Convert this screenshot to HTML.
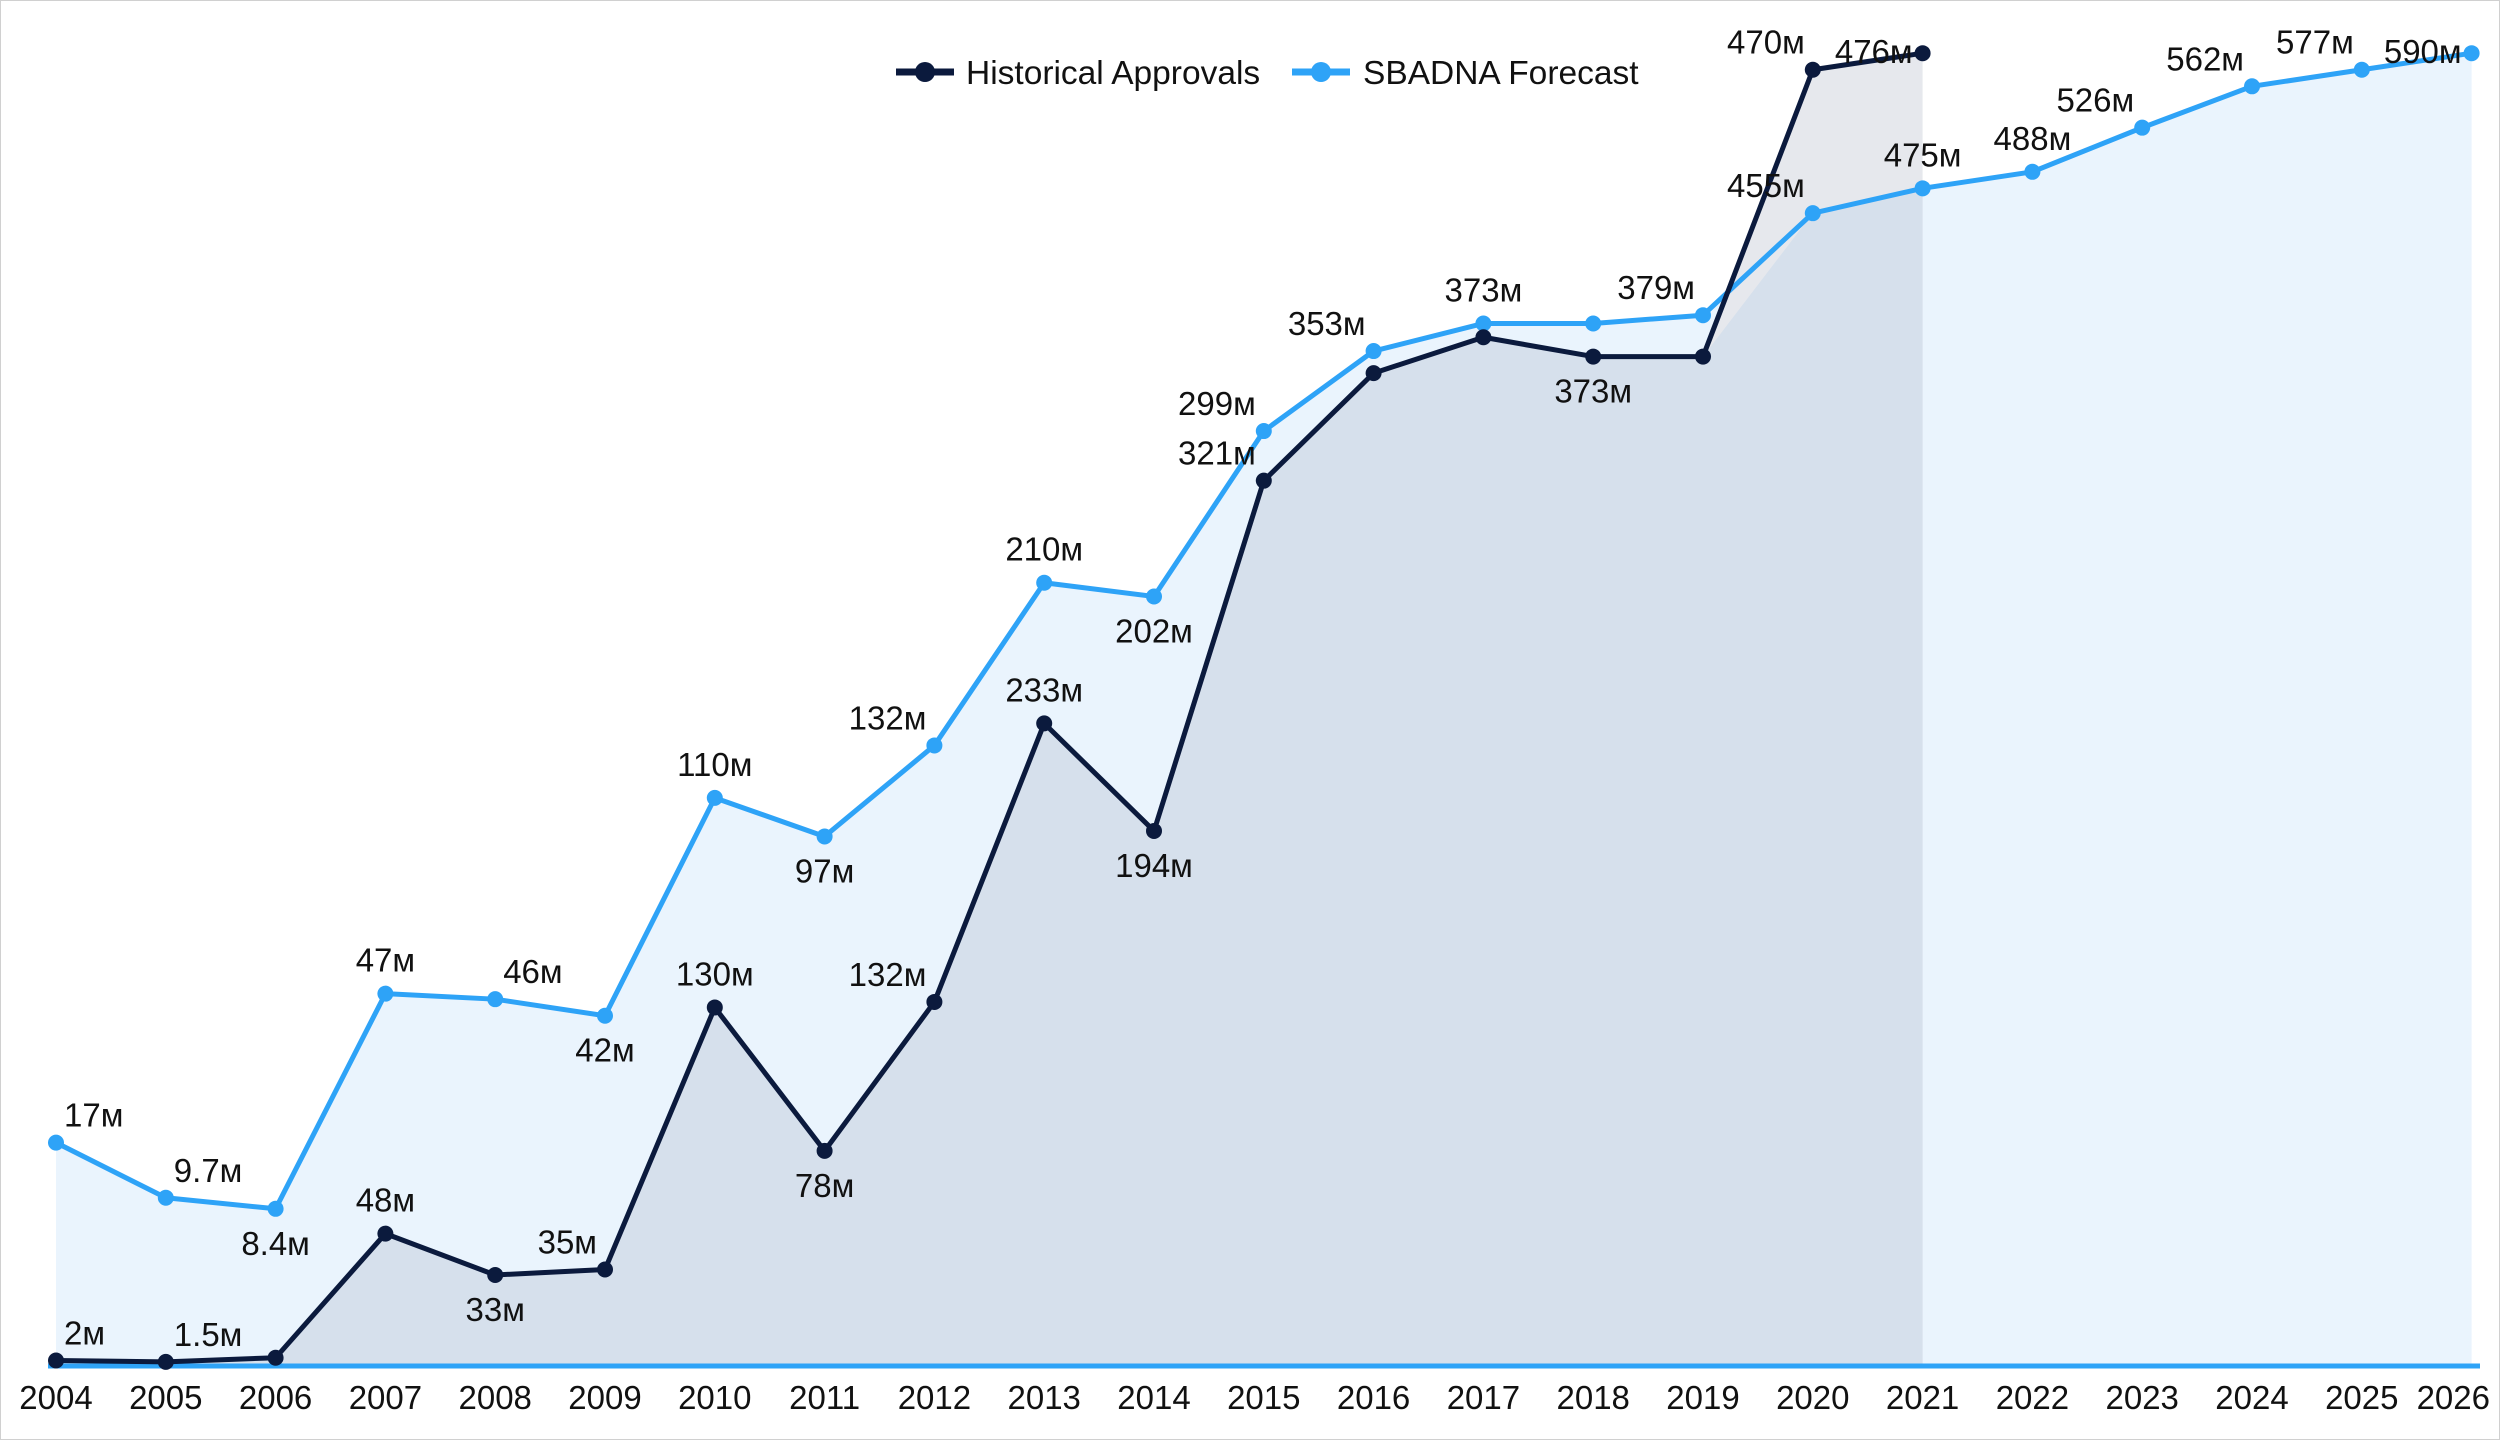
<!DOCTYPE html>
<html><head><meta charset="utf-8"><style>
html,body{margin:0;padding:0;background:#fff;}
svg{display:block;font-family:"Liberation Sans",sans-serif;}
</style></head><body>
<svg id="chart" width="2500" height="1440" viewBox="0 0 2500 1440" xmlns="http://www.w3.org/2000/svg">
<rect x="0.5" y="0.5" width="2499" height="1439" fill="#fff" stroke="#d0d0d0"/>
<g id="plot"></g>
<g id="legend">
<g>
<line x1="896" y1="72" x2="954" y2="72" stroke="#0b1a3d" stroke-width="7"/><circle cx="925" cy="72" r="10" fill="#0b1a3d"/>
<text x="966" y="84" font-size="33.5" fill="#111">Historical Approvals</text></g>
<g>
<line x1="1292" y1="72" x2="1350" y2="72" stroke="#2ea3f7" stroke-width="7"/><circle cx="1321" cy="72" r="10" fill="#2ea3f7"/>
<text x="1363" y="84" font-size="33.5" fill="#111">SBADNA Forecast</text></g>
</g>
</svg>
<script>
const years=["2004","2005","2006","2007","2008","2009","2010","2011","2012","2013","2014","2015","2016","2017","2018","2019","2020","2021","2022","2023","2024","2025","2026"];
const histValues=[2,1.5,3,48,33,35,130,78,132,233,194,321,360,373,366,366,470,476];
const histLabels=["2м","1.5м","","48м","33м","35м","130м","78м","132м","233м","194м","321м","","","373м","","470м","476м"];
const histLabelPos=["ar","ar","","a","b","al","a","b","al","a","b","al","","","b","","al","l"];
const fcValues=[81,61,57,135,133,127,206,192,225,284,279,339,368,378,378,381,418,427,433,449,464,470,476];
const fcLabels=["17м","9.7м","8.4м","47м","46м","42м","110м","97м","132м","210м","202м","299м","353м","373м","","379м","455м","475м","488м","526м","562м","577м","590м"];
const fcLabelPos=["ar","ar","b","a","ar","b","a","b","al","a","b","al","al","a","","al","al","a","a","al","al","al","l"];

const NS="http://www.w3.org/2000/svg";
const X0=56,DX=109.8,BASE=1366,K=2.758;
function xs(i){return X0+i*DX;}
function ys(v){return BASE-v*K;}
const plot=document.getElementById('plot');
function mk(tag,attrs,parent){const e=document.createElementNS(NS,tag);for(const k in attrs)e.setAttribute(k,attrs[k]);(parent||plot).appendChild(e);return e;}
function pts(vals){return vals.map((v,i)=>xs(i)+','+ys(v)).join(' ');}
const fa=mk('polygon',{points:pts(fcValues)+' '+xs(fcValues.length-1)+','+BASE+' '+xs(0)+','+BASE,fill:'#eaf4fd'});


const hi=histValues.length-1;
const ga=mk('polygon',{points:pts(histValues)+' '+xs(hi)+','+BASE+' '+xs(0)+','+BASE,fill:'#e6e8ed'});


const ha=mk('polygon',{points:pts(histValues.map((v,i)=>Math.min(v,fcValues[i])))+' '+xs(hi)+','+BASE+' '+xs(0)+','+BASE,fill:'#d6e0ec'});


const ax=mk('line',{x1:48,y1:BASE,x2:2480,y2:BASE,stroke:'#2ea3f7','stroke-width':5});


years.forEach((y,i)=>{
  const last=i===years.length-1;
  const t=mk('text',{x:last?2490:xs(i),y:1409,'font-size':33,'text-anchor':last?'end':'middle',fill:'#111'});
  t.textContent=y;
  
  
});
function series(vals,color,name){
  const l=mk('polyline',{points:pts(vals),fill:'none',stroke:color,'stroke-width':5,'stroke-linejoin':'round'});
  
  
  vals.forEach((v,i)=>{
    const c=mk('circle',{cx:xs(i),cy:ys(v),r:8,fill:color});
    
    
  });
}
series(fcValues,'#2ea3f7','forecast');
series(histValues,'#0b1a3d','historical');
function labels(vals,labs,pos,name){
  vals.forEach((v,i)=>{
    if(!labs[i])return;
    let x=xs(i),y=ys(v),a='middle';
    const p=pos[i];
    if(p==='a'){y-=22;}
    else if(p==='b'){y+=46;}
    else if(p==='al'){x-=8;y-=16;a='end';}
    else if(p==='ar'){x+=8;y-=16;a='start';}
    else if(p==='l'){x-=10;y+=10;a='end';}
    const t=mk('text',{x:x,y:y,'font-size':33,'text-anchor':a,fill:'#111'});
    t.textContent=labs[i];
    
    
  });
}
labels(fcValues,fcLabels,fcLabelPos,'forecast');
labels(histValues,histLabels,histLabelPos,'historical');
</script>
</body></html>
